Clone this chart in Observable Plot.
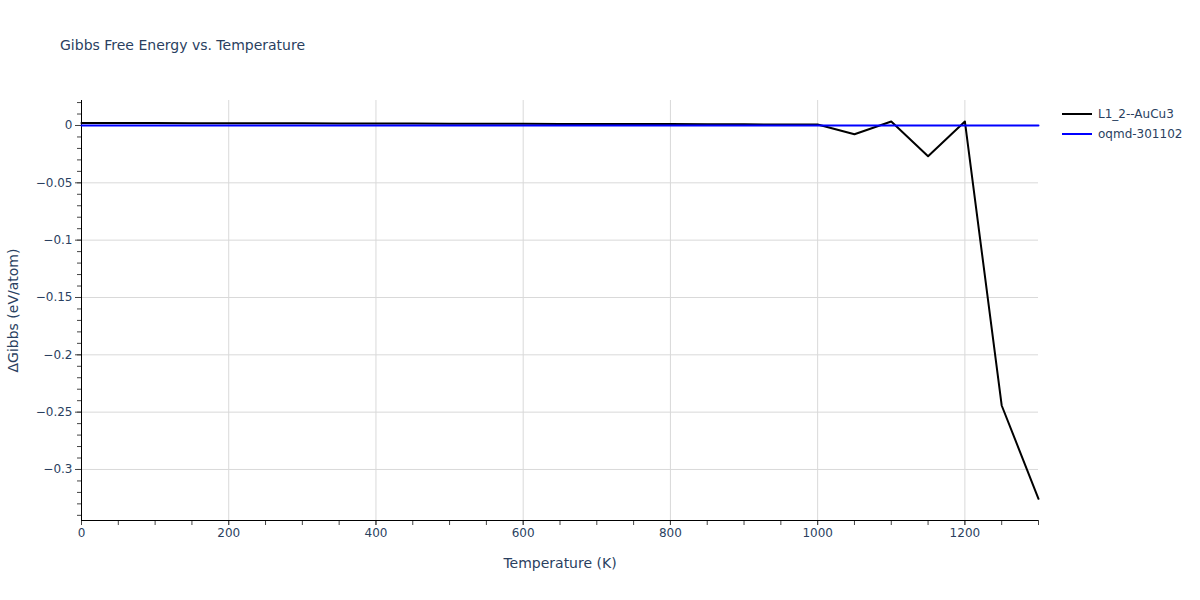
<!DOCTYPE html>
<html>
<head>
<meta charset="utf-8">
<script src="https://cdn.jsdelivr.net/npm/d3@7"></script>
<script src="https://cdn.jsdelivr.net/npm/@observablehq/plot@0.6"></script>
<style>
  html, body { margin: 0; padding: 0; background: #fff; }
  #wrap { position: relative; width: 1200px; height: 600px; font-family: Verdana, "DejaVu Sans", sans-serif; color: #2a3f5f; }
  #title { position: absolute; left: 60px; top: 37px; font-size: 14px; white-space: nowrap; }
  .leg { position: absolute; left: 1062px; font-size: 12px; display: flex; align-items: center; white-space: nowrap; }
  .leg span.sw { display: inline-block; width: 30px; height: 2px; margin-right: 6px; }
</style>
</head>
<body>
<div id="wrap">
  <div id="chart"></div>
  <div id="title">Gibbs Free Energy vs. Temperature</div>
  <div id="legend"></div>
</div>
<script>
// Data
const temperatures = [0, 50, 100, 150, 200, 250, 300, 350, 400, 450, 500, 550, 600, 650, 700,
  750, 800, 850, 900, 950, 1000, 1050, 1100, 1150, 1200, 1250, 1300];
const seriesNames = ["L1_2--AuCu3", "oqmd-301102"];
const seriesColors = ["#000000", "#0000ff"];
const l12Values = [0.0021, 0.0021, 0.0021, 0.0020, 0.0020, 0.0019, 0.0019, 0.0018, 0.0018, 0.0017,
  0.0016, 0.0016, 0.0015, 0.0014, 0.0013, 0.0013, 0.0012, 0.0011, 0.0010, 0.0009, 0.0008,
  -0.0076, 0.0035, -0.0268, 0.0035, -0.2442, -0.3256];
const oqmdValues = [0, 0, 0, 0, 0, 0, 0, 0, 0, 0, 0, 0, 0, 0, 0, 0, 0, 0, 0, 0, 0, 0, 0, 0, 0, 0, 0];
const xDomain = [0, 1300];
const yDomain = [-0.3445, 0.0218];
const xMajorTicks = [0, 200, 400, 600, 800, 1000, 1200];
const xMinorTicks = d3.range(0, 1301, 50);
const yMajorTicks = [0, -0.05, -0.1, -0.15, -0.2, -0.25, -0.3];
const yMinorTicks = d3.range(2, -35, -1).map(d => d / 100);

const rows = [];
temperatures.forEach((t, i) => {
  rows.push({T: t, G: l12Values[i], s: seriesNames[0]});
});
temperatures.forEach((t, i) => {
  rows.push({T: t, G: oqmdValues[i], s: seriesNames[1]});
});

const fmt = d => (d === 0 ? "0" : String(+d.toFixed(2)).replace("-", "\u2212"));

const chart = Plot.plot({
  width: 1200,
  height: 600,
  marginTop: 100,
  marginRight: 162,
  marginBottom: 80,
  marginLeft: 81,
  style: {fontFamily: "Verdana, 'DejaVu Sans', sans-serif", fontSize: "12px", color: "#2a3f5f", background: "#fff"},
  x: {domain: xDomain},
  y: {domain: yDomain},
  color: {domain: seriesNames, range: seriesColors},
  marks: [
    Plot.gridX(xMajorTicks, {stroke: "#d9d9d9", strokeOpacity: 1}),
    Plot.gridY(yMajorTicks, {stroke: "#d9d9d9", strokeOpacity: 1}),
    Plot.axisX(xMinorTicks, {tickSize: 5, text: null, label: null, stroke: "#444"}),
    Plot.axisX(xMajorTicks, {tickSize: 5, tickPadding: 3, tickFormat: d => String(d), stroke: "#444",
      label: "Temperature (K)", labelAnchor: "center", labelArrow: "none", labelOffset: 47}),
    Plot.axisY(yMinorTicks, {tickSize: 4, text: null, label: null, stroke: "#444"}),
    Plot.axisY(yMajorTicks, {tickSize: 6, tickPadding: 3, tickFormat: fmt, stroke: "#444",
      label: "\u0394Gibbs (eV/atom)", labelAnchor: "center", labelArrow: "none", labelOffset: 73}),
    Plot.ruleY([yDomain[0]], {stroke: "#000"}),
    Plot.ruleX([xDomain[0]], {stroke: "#000"}),
    Plot.line(rows, {x: "T", y: "G", stroke: "s", z: "s", strokeWidth: 2})
  ]
});
document.getElementById("chart").appendChild(chart);

// axis label font size
chart.querySelectorAll("g[aria-label='x-axis label'] text, g[aria-label='y-axis label'] text").forEach(t => {
  t.setAttribute("font-size", "14");
});

const legend = document.getElementById("legend");
seriesNames.forEach((name, i) => {
  const d = document.createElement("div");
  d.className = "leg";
  d.style.top = (106 + i * 20) + "px";
  d.style.height = "16px";
  d.innerHTML = `<span class="sw" style="background:${seriesColors[i]}"></span><span>${name}</span>`;
  legend.appendChild(d);
});
</script>
</body>
</html>
